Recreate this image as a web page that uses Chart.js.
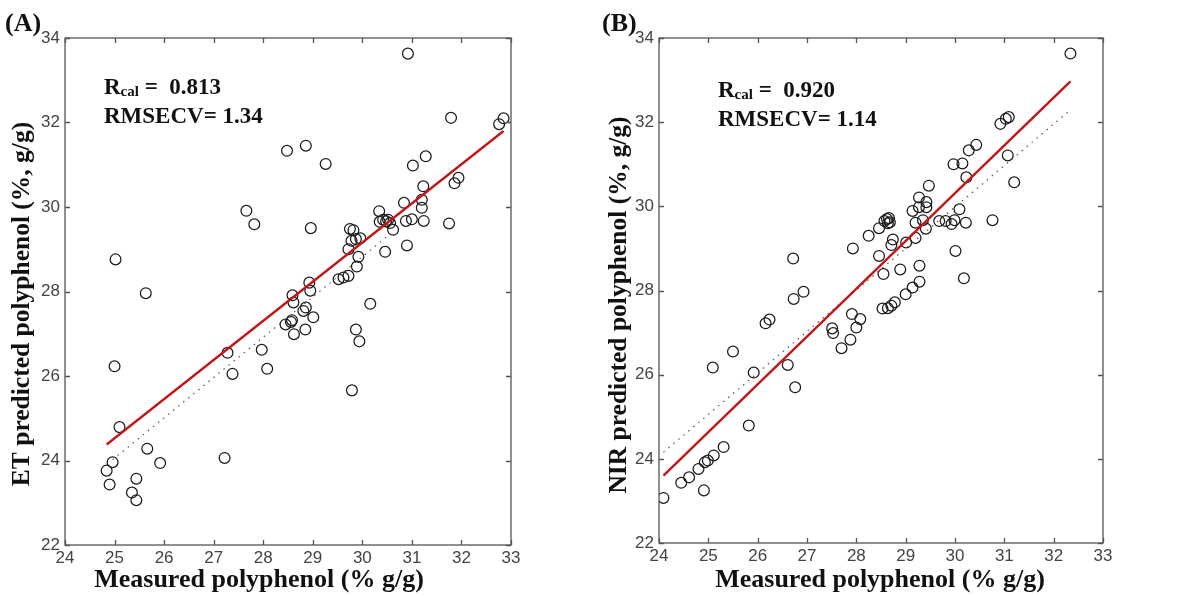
<!DOCTYPE html>
<html>
<head>
<meta charset="utf-8">
<script src="https://cdn.jsdelivr.net/npm/chart.js@4.4.1/dist/chart.umd.min.js"></script>
<style>
  html, body { margin: 0; padding: 0; background: #fff; }
  #wrap { position: relative; width: 1183px; height: 596px; overflow: hidden; }
  .panel { position: absolute; top: 0; }
</style>
</head>
<body>
<div id="wrap">
  <div class="panel" style="left:0"><canvas id="chartA" width="591" height="596"></canvas></div>
  <div class="panel" style="left:591px"><canvas id="chartB" width="592" height="596"></canvas></div>
</div>
<script>
// --- data ---
const xTicks = [24, 25, 26, 27, 28, 29, 30, 31, 32, 33];
const yTicks = [22, 24, 26, 28, 30, 32, 34];

// (A) electronic tongue
const measuredA = [30.92, 31.79, 32.76, 32.85, 28.48, 28.86, 29.26, 31.02, 31.28, 31.86, 31.94, 31.23, 31.20, 31.20, 31.24,
  30.84, 31.00, 30.88, 30.90, 31.75, 30.34, 30.35, 30.42, 30.48, 30.52, 30.56, 30.62, 30.46, 27.66, 27.82, 28.96,
  29.75, 29.82, 29.78, 29.87, 29.96, 29.72, 29.92, 29.89, 29.72, 29.62, 29.52, 25.02, 25.63, 28.93, 28.95, 28.59,
  28.61, 28.86, 28.81, 28.58, 28.56, 28.45, 29.01, 28.85, 28.62, 30.16, 29.87, 29.94, 27.28, 27.38, 27.97, 28.08,
  25.00, 25.10, 29.79, 25.66, 25.92, 27.22, 24.96, 24.84, 24.90, 25.44, 25.35, 25.44];
const predictedA = [33.63, 32.11, 31.96, 32.10, 31.33, 31.45, 31.02, 30.98, 31.20, 30.56, 30.69, 30.49, 30.17, 29.98, 29.67,
  30.10, 29.71, 29.67, 29.09, 29.61, 29.90, 29.65, 29.70, 29.66, 29.70, 29.62, 29.46, 28.94, 29.91, 29.59, 29.50,
  29.48, 29.45, 29.20, 29.24, 29.26, 29.00, 28.82, 28.59, 28.37, 28.33, 28.29, 28.76, 27.96, 28.21, 28.02, 27.91,
  27.74, 27.62, 27.54, 27.32, 27.28, 27.22, 27.39, 27.10, 26.99, 27.71, 27.10, 26.82, 26.55, 26.05, 26.62, 26.17,
  26.23, 24.79, 25.66, 24.28, 23.94, 24.06, 23.96, 23.76, 23.43, 23.57, 23.24, 23.06];
const fitA = [[24.84, 24.38], [32.85, 31.80]];
const refA = [[24.96, 24.02], [30.50, 29.30]];

// (B) NIR
const measuredB = [32.34, 30.92, 31.03, 31.09, 31.07, 31.20, 30.43, 30.28, 29.97, 30.15, 30.23, 29.47, 29.27, 29.42, 29.42,
  29.27, 29.14, 29.35, 29.20, 29.41, 29.20, 29.68, 29.81, 29.93, 29.99, 30.09, 30.22, 30.76, 30.01, 30.18, 28.57,
  28.62, 28.66, 28.68, 28.64, 28.46, 28.25, 27.93, 28.74, 28.71, 29.01, 28.46, 28.55, 28.89, 29.28, 29.28, 29.14,
  29.00, 26.72, 26.93, 26.73, 28.53, 28.64, 28.71, 28.78, 26.16, 26.24, 25.50, 25.09, 25.92, 26.61, 26.76, 27.51,
  27.53, 27.91, 28.08, 28.00, 27.88, 27.70, 25.82, 25.31, 25.11, 24.99, 24.93, 24.80, 24.61, 24.45, 24.91, 24.09];
const predictedB = [33.63, 31.96, 32.08, 32.12, 31.21, 30.57, 31.46, 31.33, 31.00, 31.02, 30.69, 30.49, 30.21, 30.10, 29.98,
  29.98, 29.89, 29.67, 29.61, 29.47, 29.25, 29.65, 29.65, 29.58, 29.67, 29.93, 29.61, 29.67, 28.94, 28.29, 29.65,
  29.70, 29.72, 29.62, 29.60, 29.48, 29.30, 29.00, 29.21, 29.08, 29.14, 28.82, 28.39, 28.50, 28.59, 28.21, 28.07,
  27.91, 28.76, 27.97, 27.80, 27.57, 27.58, 27.64, 27.72, 27.22, 27.31, 26.55, 26.17, 26.05, 26.23, 25.70, 27.10,
  26.99, 27.44, 27.32, 27.12, 26.83, 26.63, 24.79, 24.28, 24.08, 23.96, 23.92, 23.76, 23.56, 23.43, 23.25, 23.07];
const fitB = [[24.09, 23.60], [32.34, 32.97]];
const refB = [[24.09, 24.16], [32.34, 32.29]];

const serif = "'Liberation Serif', 'Times New Roman', serif";
const tickFont = "'Liberation Sans Narrow', 'Liberation Sans', Arial, sans-serif";

// frame, inward ticks and the MATLAB-style texts
const matlabFrame = {
  id: 'matlabFrame',
  afterDraw(chart, args, opts) {
    const ctx = chart.ctx;
    const a = chart.chartArea;
    const xs = chart.scales.x, ys = chart.scales.y;
    ctx.save();
    ctx.strokeStyle = '#555';
    ctx.lineWidth = 1.3;
    ctx.strokeRect(a.left, a.top, a.right - a.left, a.bottom - a.top);
    ctx.beginPath();
    xTicks.forEach(v => {
      const px = Math.round(xs.getPixelForValue(v)) + 0.5;
      ctx.moveTo(px, a.bottom); ctx.lineTo(px, a.bottom - 5);
      ctx.moveTo(px, a.top); ctx.lineTo(px, a.top + 5);
    });
    yTicks.forEach(v => {
      const py = Math.round(ys.getPixelForValue(v)) + 0.5;
      ctx.moveTo(a.left, py); ctx.lineTo(a.left + 5, py);
      ctx.moveTo(a.right, py); ctx.lineTo(a.right - 5, py);
    });
    ctx.stroke();

    ctx.fillStyle = '#111';
    // panel letter
    ctx.font = 'bold 26px ' + serif;
    ctx.textAlign = 'left';
    ctx.textBaseline = 'alphabetic';
    ctx.fillText(opts.letter, opts.letterX, 31);

    // statistics
    ctx.font = 'bold 23px ' + serif;
    ctx.fillText('R', opts.statX, opts.statY);
    let x = opts.statX + ctx.measureText('R').width;
    ctx.font = 'bold 15px ' + serif;
    ctx.fillText('cal', x, opts.statY + 2);
    x += ctx.measureText('cal').width;
    ctx.font = 'bold 23px ' + serif;
    ctx.fillText(' =  ' + opts.r, x, opts.statY);
    ctx.fillText('RMSECV= ' + opts.rmse, opts.statX, opts.statY + 29);

    // axis titles
    ctx.font = 'bold 26px ' + serif;
    ctx.textAlign = 'center';
    ctx.fillText(opts.xTitle, opts.xTitleX, 587);
    ctx.save();
    ctx.translate(opts.yTitleX, opts.yTitleY);
    ctx.rotate(-Math.PI / 2);
    ctx.font = 'bold 25.5px ' + serif;
    ctx.textBaseline = 'middle';
    ctx.fillText(opts.yTitle, 0, 0);
    ctx.restore();
    ctx.restore();
  }
};

function makeChart(id, measured, predicted, fit, ref, area, opts) {
  const points = measured.map((m, i) => ({ x: m, y: predicted[i] }));
  const canvas = document.getElementById(id);
  return new Chart(canvas, {
    type: 'scatter',
    data: {
      datasets: [
        { data: fit.map(p => ({ x: p[0], y: p[1] })), showLine: true, borderColor: '#c01818',
          borderWidth: 2.4, pointRadius: 0, fill: false },
        { data: ref.map(p => ({ x: p[0], y: p[1] })), showLine: true, borderColor: '#555',
          borderWidth: 1.2, borderDash: [1.5, 5], pointRadius: 0, fill: false },
        { data: points, showLine: false, pointStyle: 'circle', pointRadius: 5.4,
          borderColor: '#1a1a1a', borderWidth: 1.25, backgroundColor: 'rgba(0,0,0,0)' }
      ]
    },
    options: {
      responsive: false,
      animation: false,
      devicePixelRatio: 1,
      layout: { padding: { top: area.top, right: canvas.width - area.right, left: 0, bottom: 0 } },
      plugins: { legend: { display: false }, tooltip: { enabled: false }, matlabFrame: opts },
      scales: {
        x: {
          type: 'linear', min: 24, max: 33,
          afterBuildTicks: s => { s.ticks = xTicks.map(v => ({ value: v })); },
          afterFit: s => { s.height = canvas.height - area.bottom; },
          grid: { display: false, drawTicks: false },
          border: { display: false },
          ticks: { padding: 3, color: '#444', font: { family: tickFont, size: 17 }, maxRotation: 0 }
        },
        y: {
          type: 'linear', min: 22, max: 34,
          afterBuildTicks: s => { s.ticks = yTicks.map(v => ({ value: v })); },
          afterFit: s => { s.width = area.left; },
          grid: { display: false, drawTicks: false },
          border: { display: false },
          ticks: { padding: 5, color: '#444', font: { family: tickFont, size: 17 } }
        }
      }
    },
    plugins: [matlabFrame]
  });
}

makeChart('chartA', measuredA, predictedA, fitA, refA,
  { left: 65, right: 511, top: 38, bottom: 545 },
  { letter: '(A)', letterX: 5, statX: 104, statY: 94, r: '0.813', rmse: '1.34',
    xTitle: 'Measured polyphenol (% g/g)', xTitleX: 259,
    yTitle: 'ET predicted polyphenol (%, g/g)', yTitleX: 22, yTitleY: 304 });

makeChart('chartB', measuredB, predictedB, fitB, refB,
  { left: 68, right: 512, top: 38, bottom: 543 },
  { letter: '(B)', letterX: 11, statX: 127, statY: 97, r: '0.920', rmse: '1.14',
    xTitle: 'Measured polyphenol (% g/g)', xTitleX: 289,
    yTitle: 'NIR predicted polyphenol (%, g/g)', yTitleX: 28, yTitleY: 305 });
</script>
</body>
</html>
